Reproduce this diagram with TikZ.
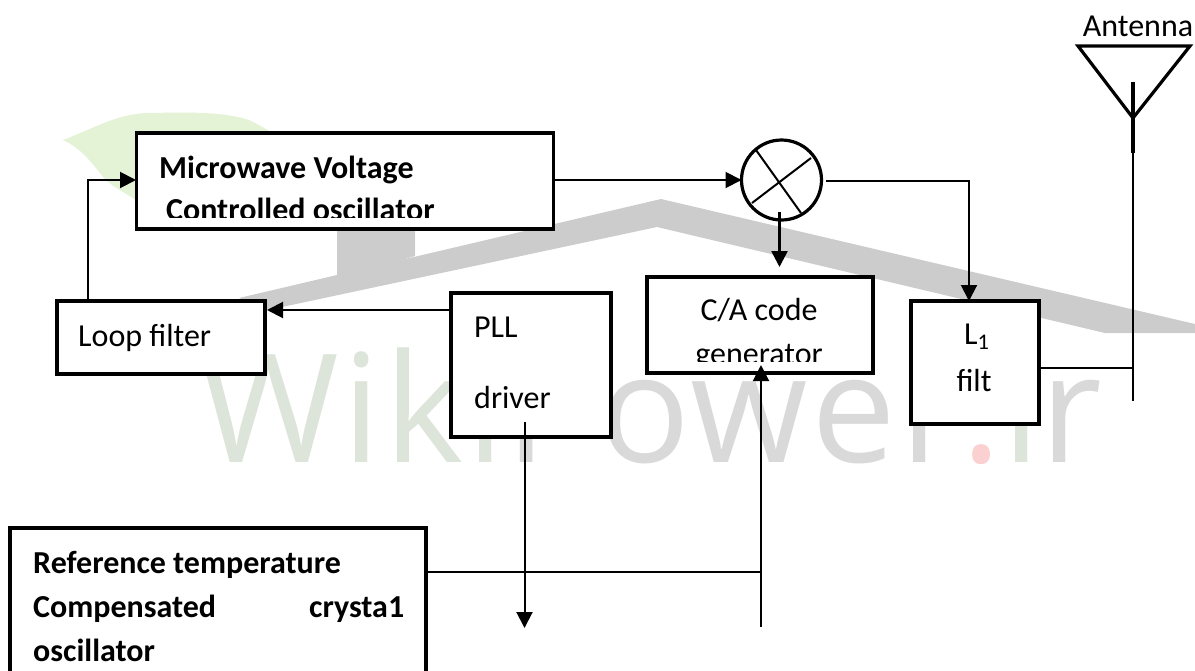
\documentclass[tikz,border=0pt]{standalone}
\usepackage{fontspec}
\setmainfont{Carlito}
\newfontfamily\wmfont[LetterSpace=2.3]{Open Sans}
\usetikzlibrary{arrows.meta}
\definecolor{roofgray}{HTML}{CCCCCC}
\definecolor{leafgreen}{HTML}{E4F2D6}
\definecolor{wmgreen}{HTML}{DDE5DA}
\definecolor{wmgray}{HTML}{D9D9D9}
\definecolor{wmred}{HTML}{FBD0D0}
\tikzset{
  blockbox/.style={draw=black,fill=white,line width=3.2pt,outer sep=0pt,inner sep=0pt,rectangle},
  wire/.style={draw=black,line width=2pt},
  heavywire/.style={draw=black,line width=2.6pt},
  arrowwire/.style={wire,-{Triangle[length=16pt,width=16pt]}},
  heavyarrow/.style={heavywire,-{Triangle[length=16pt,width=16pt]}},
  txt/.style={inner sep=0pt,anchor=base west,font=\fontsize{32}{36}\selectfont,text=black},
  btxt/.style={txt,font=\fontsize{32}{36}\selectfont\bfseries},
  ctxt/.style={txt,anchor=base},
}
\begin{document}
\begin{tikzpicture}[x=1pt,y=-1pt]
\useasboundingbox (0,0) rectangle (1195,670);
\clip (0,0) rectangle (1195,670);
% watermark
\fill[leafgreen] (63,140) .. controls (95,128) and (120,112) .. (153,113) .. controls (190,112) and (225,112) .. (249,120) .. controls (262,126) and (275,135) .. (285,140) -- (136,200) .. controls (120,190) and (110,185) .. (103,177) .. controls (90,160) and (80,148) .. (63,140) -- cycle;
\fill[roofgray] (337,225) -- (415,225) -- (415,256) -- (337,280) -- cycle;
\fill[roofgray] (239,298) -- (661,199) -- (1195,324) -- (1195,333) -- (1105,333) -- (657,227) -- (268,310) -- cycle;
\node[inner sep=0pt,anchor=base west,font=\fontsize{151}{151}\wmfont] (wm) at (199,462) {\textcolor{wmgreen}{Wiki}\textcolor{wmgray}{Power}\textcolor{wmred}{.}\textcolor{wmgreen}{i}\textcolor{wmgray}{r}};
% boxes
\node[blockbox,minimum width=417pt,minimum height=96pt] (mvco) at (345,181) {};
\node[blockbox,minimum width=208pt,minimum height=73pt] (loop) at (161,337.5) {};
\node[blockbox,minimum width=160pt,minimum height=144pt] (pll) at (531,365) {};
\node[blockbox,minimum width=226pt,minimum height=96pt] (ca) at (760,325) {};
\node[blockbox,minimum width=128pt,minimum height=123pt] (lf) at (975,362.5) {};
\node[blockbox,minimum width=416pt,minimum height=172pt] (ref) at (218,614) {};
\node[draw=black,fill=white,line width=3.2pt,circle,minimum size=80pt,inner sep=0pt,outer sep=0pt] (mix) at (781.5,180) {};
% mixer cross
\coordinate (c1) at (756,150); \coordinate (c2) at (801,213);
\coordinate (c3) at (752,203); \coordinate (c4) at (811,158);
\draw[wire] (c1) -- (c2);
\draw[wire] (c3) -- (c4);
% antenna
\coordinate (antl) at (1078,46); \coordinate (antr) at (1190,46); \coordinate (antb) at (1133,118);
\coordinate (stemt) at (1133,82); \coordinate (stemm) at (1133,153); \coordinate (steme) at (1133,401);
\draw[line width=3.2pt,line join=miter] (antl) -- (antr) -- (antb) -- cycle;
\draw[line width=3.2pt] (stemt) -- (stemm);
\draw[wire] (stemm) -- (steme);
% connectors
\coordinate (loopup) at (87.6,301); \coordinate (loopc) at (87.6,180); \coordinate (mvcoin) at (136,180);
\draw[arrowwire] (loopup) -- (loopc) -- (mvcoin);
\coordinate (plll) at (451,310); \coordinate (loopr) at (267,310);
\draw[arrowwire] (plll) -- (loopr);
\coordinate (mvcor) at (554,180); \coordinate (mixl) at (741.5,180);
\draw[arrowwire] (mvcor) -- (mixl);
\coordinate (mixb) at (779.5,212); \coordinate (catop) at (779.5,267);
\draw[heavyarrow] (mixb) -- (catop);
\coordinate (mixr) at (826,181); \coordinate (lfc) at (969,181); \coordinate (lft) at (969,301);
\draw[arrowwire] (mixr) -- (lfc) -- (lft);
\coordinate (lfr) at (1039,368); \coordinate (antj) at (1133,368);
\draw[wire] (lfr) -- (antj);
\coordinate (drv) at (524.5,422); \coordinate (drve) at (524.5,628);
\draw[arrowwire] (drv) -- (drve);
\coordinate (refr) at (426,572); \coordinate (refj) at (761,572);
\draw[wire] (refr) -- (refj);
\coordinate (cab) at (761,627); \coordinate (cat) at (761,365);
\draw[arrowwire] (cab) -- (cat);
% labels
\node[btxt] (t1) at (159,178) {Microwave Voltage};
\begin{scope}
\clip (140,190) rectangle (550,217.5);
\node[btxt] (t2) at (166,220) {Controlled oscillator};
\end{scope}
\node[txt] (t3) at (78,346) {Loop filter};
\node[txt] (t4) at (474,337) {PLL};
\node[txt] (t5) at (474,408) {driver};
\node[ctxt] (t6) at (759,320) {C/A code};
\begin{scope}
\clip (650,330) rectangle (870,361.5);
\node[ctxt] (t7) at (759,364) {generator};
\end{scope}
\node[txt] (t8) at (964,344) {L\textsubscript{1}};
\node[ctxt] (t9) at (974,391) {filt};
\node[ctxt] (t10) at (1138,36) {Antenna};
\node[btxt] (t11) at (33,573) {Reference temperature};
\node[btxt] (t12) at (33,617) {\makebox[371pt][s]{Compensated\hfill crysta1}};
\node[btxt] (t13) at (33,661) {oscillator};
\end{tikzpicture}
\end{document}
